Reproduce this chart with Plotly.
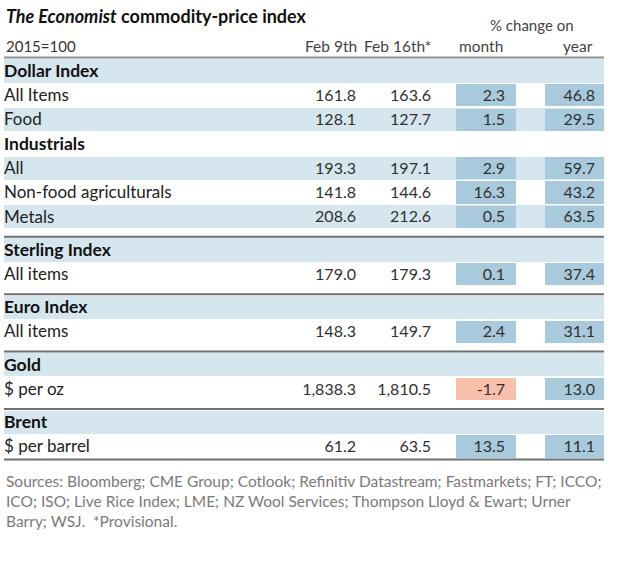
import plotly.graph_objects as go

W, H = 632, 566

# ---------------- data ----------------
title_italic = "The Economist"
title_rest = " commodity-price index"
base_label = "2015=100"
col_headers = ["Feb 9th", "Feb 16th*", "month", "year"]
pct_header = "% change on"

sections = ["Dollar Index", "Industrials", "Sterling Index", "Euro Index", "Gold", "Brent"]
section_block = [0, 0, 1, 2, 3, 4]
row_labels = ["All Items", "Food", "All", "Non-food agriculturals", "Metals",
              "All items", "All items", "$ per oz", "$ per barrel"]
row_section = [0, 0, 1, 1, 1, 2, 3, 4, 5]
feb9 = [161.8, 128.1, 193.3, 141.8, 208.6, 179.0, 148.3, 1838.3, 61.2]
feb16 = [163.6, 127.7, 197.1, 144.6, 212.6, 179.3, 149.7, 1810.5, 63.5]
chg_month = [2.3, 1.5, 2.9, 16.3, 0.5, 0.1, 2.4, -1.7, 13.5]
chg_year = [46.8, 29.5, 59.7, 43.2, 63.5, 37.4, 31.1, 13.0, 11.1]
source_lines = [
    "Sources: Bloomberg; CME Group; Cotlook; Refinitiv Datastream; Fastmarkets; FT; ICCO;",
    "ICO; ISO; Live Rice Index; LME; NZ Wool Services; Thompson Lloyd & Ewart; Urner",
    "Barry; WSJ.  *Provisional.",
]

# ---------------- layout constants ----------------
FONT = "Lato"
TXT = "#222222"
NUM = "#303030"
BAND = "#d6e6ee"
BOX = "#a9cadc"
NEG = "#f8c0aa"
RULE = "#6f6f6f"
X_LEFT, X_RIGHT = 4, 604
X_F9, X_F16, X_M, X_Y = 356, 431, 505, 595
BOX_M = (456, 516)
BOX_Y = (545, 604)
Y0, PITCH, GAP = 71, 24.3, 8.8
BAND_H, BOX_H = 23.2, 22.2
TXT_DY = 1.5

# build display rows
items = []  # (kind, text, data index, block)
for s, name in enumerate(sections):
    items.append(("head", name, None, section_block[s]))
    for r, sec in enumerate(row_section):
        if sec == s:
            items.append(("row", row_labels[r], r, section_block[s]))

ys, pos_in_block = [], []
last_block, pcount = None, 0
for i, it in enumerate(items):
    if it[3] != last_block:
        pcount = 0
        last_block = it[3]
    ys.append(Y0 + i * PITCH + it[3] * GAP)
    pos_in_block.append(pcount)
    pcount += 1

fig = go.Figure()

# bands
band_y = [ys[i] for i in range(len(items)) if pos_in_block[i] % 2 == 0]
fig.add_trace(go.Bar(orientation="h", y=band_y, x=[X_RIGHT - X_LEFT] * len(band_y),
                     base=[X_LEFT] * len(band_y), width=[BAND_H] * len(band_y),
                     marker=dict(color=BAND, line=dict(width=0)), hoverinfo="skip"))

# value boxes
row_y = [ys[i] for i, it in enumerate(items) if it[0] == "row"]
row_idx = [it[2] for it in items if it[0] == "row"]
m_vals = [chg_month[r] for r in row_idx]
y_vals = [chg_year[r] for r in row_idx]
fig.add_trace(go.Bar(orientation="h", y=row_y, x=[BOX_M[1] - BOX_M[0]] * len(row_y),
                     base=[BOX_M[0]] * len(row_y), width=[BOX_H] * len(row_y),
                     marker=dict(color=[NEG if v < 0 else BOX for v in m_vals], line=dict(width=0)),
                     hoverinfo="skip"))
fig.add_trace(go.Bar(orientation="h", y=row_y, x=[BOX_Y[1] - BOX_Y[0]] * len(row_y),
                     base=[BOX_Y[0]] * len(row_y), width=[BOX_H] * len(row_y),
                     marker=dict(color=[NEG if v < 0 else BOX for v in y_vals], line=dict(width=0)),
                     hoverinfo="skip"))

# rules
rule_y = [57.5]
for i in range(1, len(items)):
    if items[i][3] != items[i - 1][3]:
        rule_y.append(ys[i] - BAND_H / 2 - 1.5)
rule_y.append(ys[-1] + BOX_H / 2 + 2)
for k, ry in enumerate(rule_y):
    fig.add_trace(go.Scatter(x=[X_LEFT, X_RIGHT], y=[ry, ry], mode="lines",
                             line=dict(color="#8f8f8f" if k == 0 else RULE, width=2),
                             hoverinfo="skip"))

# labels
head_y = [ys[i] + TXT_DY for i, it in enumerate(items) if it[0] == "head"]
fig.add_trace(go.Scatter(x=[X_LEFT] * len(head_y), y=head_y, mode="text",
                         text=[it[1] for it in items if it[0] == "head"],
                         textposition="middle right", cliponaxis=False,
                         textfont=dict(family=FONT, size=17.5, color="#111111", weight=700),
                         hoverinfo="skip"))
row_ty = [y + TXT_DY for y in row_y]
fig.add_trace(go.Scatter(x=[X_LEFT] * len(row_y), y=row_ty, mode="text",
                         text=[it[1] for it in items if it[0] == "row"],
                         textposition="middle right", cliponaxis=False,
                         textfont=dict(family=FONT, size=17, color=TXT, weight=400),
                         hoverinfo="skip"))


def fmt(v):
    return f"{v:,.1f}"


for xpos, vals in [(X_F9, [feb9[r] for r in row_idx]), (X_F16, [feb16[r] for r in row_idx]),
                   (X_M, m_vals), (X_Y, y_vals)]:
    fig.add_trace(go.Scatter(x=[xpos] * len(row_y), y=row_ty, mode="text",
                             text=[fmt(v) for v in vals], textposition="middle left",
                             cliponaxis=False,
                             textfont=dict(family=FONT, size=16, color=NUM, weight=400),
                             hoverinfo="skip"))

ann = []
ann.append(dict(x=X_LEFT, y=16, xref="x", yref="y", xanchor="left", yanchor="middle",
                text=f"<b><i>{title_italic}</i>{title_rest}</b>", showarrow=False,
                font=dict(family=FONT, size=18, color="#111111")))
ann.append(dict(x=X_LEFT, y=46, xref="x", yref="y", xanchor="left", yanchor="middle",
                text=base_label, showarrow=False, font=dict(family=FONT, size=15, color="#333333")))
hx = [(X_F9 + 3, "right"), (X_F16 + 2, "right"), (481, "center"), (X_Y, "right")]
for (hxp, anc), t in zip(hx, col_headers):
    ann.append(dict(x=hxp, y=46, xref="x", yref="y", xanchor=anc, yanchor="middle", text=t,
                    showarrow=False, font=dict(family=FONT, size=15.5, color="#444444")))
ann.append(dict(x=532, y=25, xref="x", yref="y", xanchor="center", yanchor="middle",
                text=pct_header, showarrow=False, font=dict(family=FONT, size=15, color="#444444")))
ann.append(dict(x=X_LEFT, y=470, xref="x", yref="y", xanchor="left", yanchor="top",
                text="<br>".join(source_lines), showarrow=False, align="left",
                font=dict(family=FONT, size=15.5, color="#7a7a7a")))

fig.update_layout(
    width=W, height=H, margin=dict(l=0, r=0, t=0, b=0),
    paper_bgcolor="white", plot_bgcolor="white", showlegend=False,
    barmode="overlay", bargap=0,
    xaxis=dict(range=[0, W], visible=False, fixedrange=True),
    yaxis=dict(range=[H, 0], visible=False, fixedrange=True),
    annotations=ann,
)
fig.write_html("out.html", config={"displayModeBar": False, "staticPlot": True},
               post_script="document.body.style.margin='0';")
